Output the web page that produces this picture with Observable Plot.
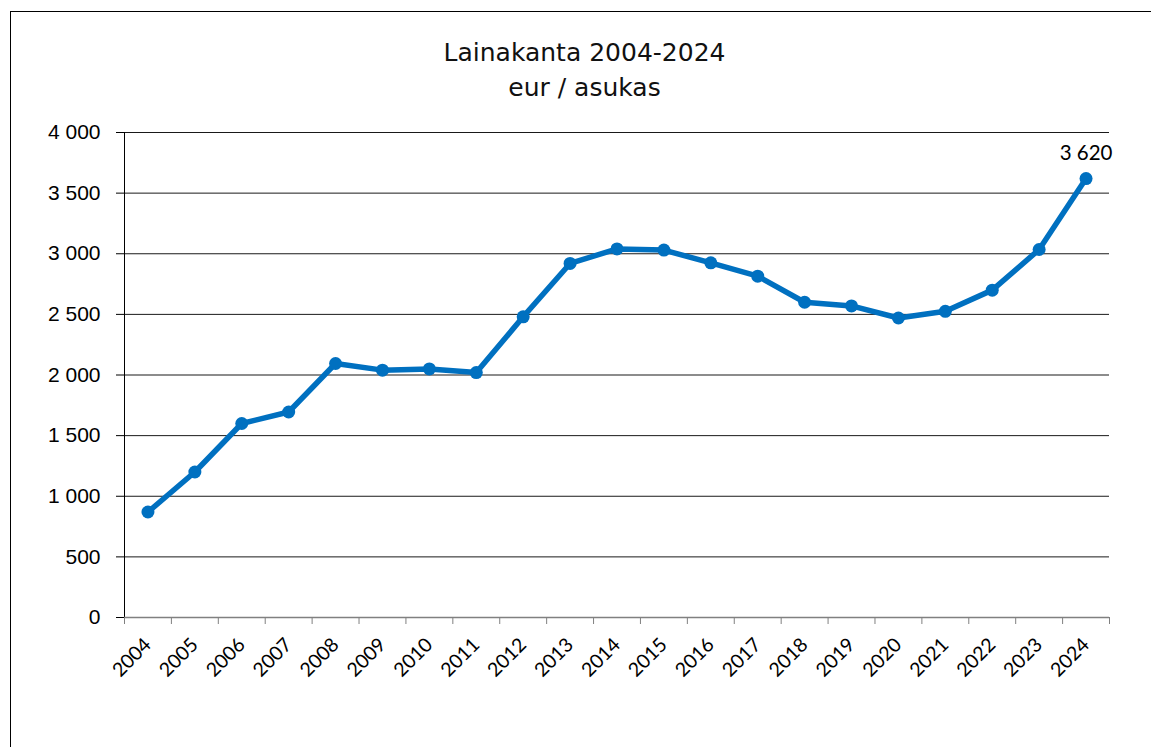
<!DOCTYPE html>
<html>
<head>
<meta charset="utf-8">
<script src="https://cdn.jsdelivr.net/npm/d3@7"></script>
<script src="https://cdn.jsdelivr.net/npm/@observablehq/plot@0.6"></script>
<style>
html, body { margin: 0; padding: 0; background: #fff; overflow: hidden; }
#wrap { position: relative; width: 1151px; height: 747px; overflow: hidden; background: #fff; }
#frame { position: absolute; left: 10px; top: 11px; width: 1300px; height: 900px; border: 1px solid #000; box-sizing: border-box; pointer-events: none; }
#title { box-sizing: border-box; padding-top: 35px; padding-left: 18px; height: 111px; text-align: center; font-family: "DejaVu Sans", sans-serif; font-size: 25px; line-height: 35px; color: #111; }
#chart svg { display: block; }
</style>
</head>
<body>
<div id="wrap">
  <div id="frame"></div>
  <div id="title">Lainakanta 2004-2024<br>eur / asukas</div>
  <div id="chart"></div>
</div>
<script>
const years = [2004, 2005, 2006, 2007, 2008, 2009, 2010, 2011, 2012, 2013, 2014, 2015, 2016, 2017, 2018, 2019, 2020, 2021, 2022, 2023, 2024];
const values = [870, 1200, 1600, 1695, 2095, 2040, 2050, 2020, 2480, 2920, 3040, 3030, 2925, 2815, 2600, 2570, 2470, 2525, 2700, 3035, 3620];
const yTicks = [0, 500, 1000, 1500, 2000, 2500, 3000, 3500, 4000];

const data = years.map((year, i) => ({year, value: values[i]}));
const boundaries = years.map(y => y - 0.5).concat([years[years.length - 1] + 0.5]);
const fmt = d => d3.format(",")(d).replace(/,/g, " ");

const chart = Plot.plot({
  width: 1151,
  height: 636,
  marginLeft: 124,
  marginRight: 42,
  marginTop: 21,
  marginBottom: 130,
  x: {type: "linear", domain: [years[0] - 0.5, years[years.length - 1] + 0.5]},
  y: {domain: [0, 4000]},
  style: {fontFamily: "Lato, sans-serif", background: "#fff", color: "#000"},
  marks: [
    Plot.gridY(yTicks, {stroke: "#000", strokeOpacity: 0.9, strokeWidth: 1}),
    Plot.axisY({ticks: yTicks, tickSize: 8, tickPadding: 16, tickFormat: fmt, fontSize: 21, fontFamily: "Liberation Sans, Arial, sans-serif", label: null, stroke: "#000"}),
    Plot.ruleX([years[0] - 0.5], {stroke: "#000", strokeWidth: 1}),
    Plot.ruleY([0], {stroke: "#808080", strokeWidth: 1.5}),
    Plot.axisX({ticks: boundaries, tickSize: 7, tickFormat: () => "", stroke: "#808080", label: null}),
    Plot.axisX({ticks: years, tickSize: 0, tickRotate: -45, tickPadding: 24, tickFormat: d => String(d), fontSize: 19.5, label: null}),
    Plot.line(data, {x: "year", y: "value", stroke: "#0070C0", strokeWidth: 5.5}),
    Plot.dot(data, {x: "year", y: "value", r: 6.5, fill: "#0070C0"}),
    Plot.text([data[data.length - 1]], {x: "year", y: "value", text: d => fmt(d.value), dy: -25, fontSize: 20.5, fill: "#000"})
  ]
});
document.getElementById("chart").appendChild(chart);
</script>
</body>
</html>
